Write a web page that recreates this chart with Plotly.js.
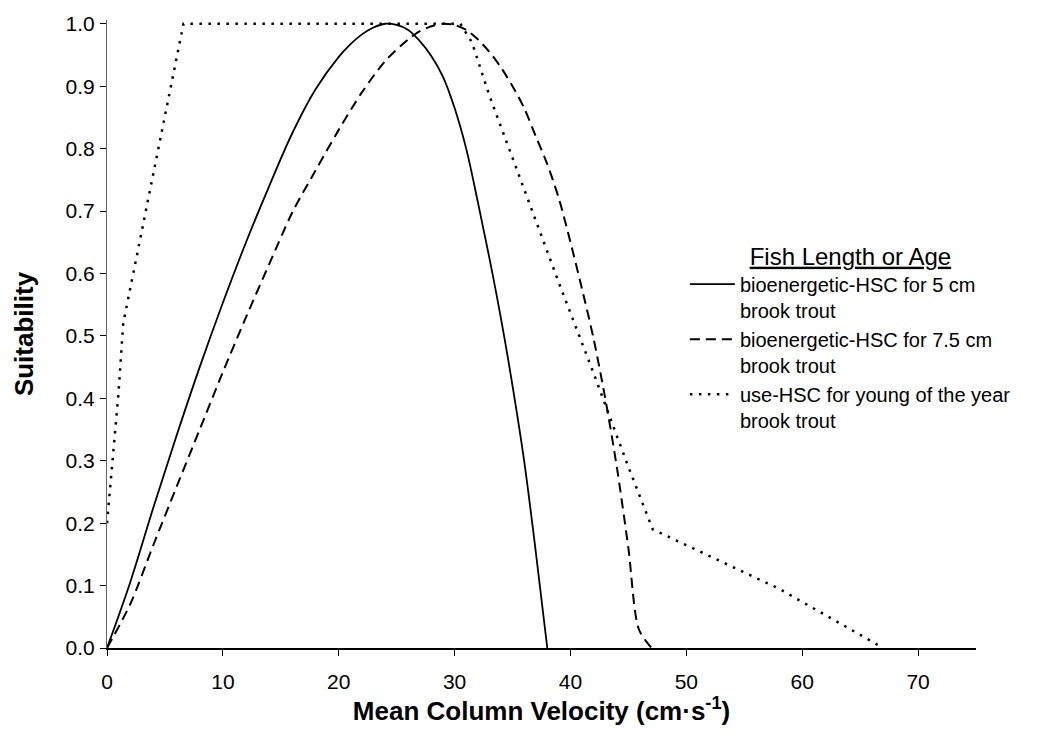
<!DOCTYPE html>
<html>
<head>
<meta charset="utf-8">
<script src="https://cdn.plot.ly/plotly-3.0.1.min.js"></script>
<style>html,body{margin:0;padding:0;background:#fff;}#chart{width:1058px;height:751px;}</style>
</head>
<body>
<div id="chart"></div>
<script>
// Bioenergetic-HSC for 5 cm brook trout
const solidX = [0, 2, 4, 6, 8, 10, 12, 14, 16, 18, 20, 21, 22, 23, 24, 25, 26, 27, 28, 29, 30, 31, 32, 33, 34, 35, 36, 37, 38];
const solidY = [0, 0.105, 0.225, 0.34, 0.45, 0.553, 0.65, 0.74, 0.825, 0.895, 0.947, 0.967, 0.983, 0.994, 1.0, 0.998, 0.99, 0.972, 0.948, 0.915, 0.865, 0.80, 0.715, 0.625, 0.528, 0.42, 0.30, 0.155, 0];

// Bioenergetic-HSC for 7.5 cm brook trout
const dashX = [0, 2, 4, 6, 8, 10, 12, 14, 16, 18, 20, 22, 24, 26, 27, 28, 29, 30, 31, 32, 33, 34, 35, 36, 37, 38, 39, 40, 41, 42, 43, 44, 45, 45.9, 47];
const dashY = [0, 0.07, 0.165, 0.258, 0.35, 0.442, 0.53, 0.615, 0.698, 0.765, 0.83, 0.89, 0.94, 0.975, 0.988, 0.996, 1.0, 0.998, 0.99, 0.975, 0.955, 0.93, 0.90, 0.865, 0.82, 0.775, 0.72, 0.65, 0.575, 0.495, 0.40, 0.29, 0.16, 0.03, 0];

// Use-HSC for young of the year brook trout
const dotX = [0, 1.0, 1.4, 6.6, 30.5, 31.5, 33, 36, 39, 42, 45, 47.1, 58, 67];
const dotY = [0.2, 0.41, 0.52, 1.0, 1.0, 0.97, 0.885, 0.735, 0.585, 0.44, 0.29, 0.19, 0.095, 0];

const seriesNames = [
  'bioenergetic-HSC for 5 cm<br>brook trout',
  'bioenergetic-HSC for 7.5 cm<br>brook trout',
  'use-HSC for young of the year<br>brook trout'
];
const legendTitle = 'Fish Length or Age';
const xTitle = 'Mean Column Velocity (cm·s<sup>-1</sup>)';
const yTitle = 'Suitability';

const FONT = 'Liberation Sans, Arial, Helvetica, sans-serif';

const traces = [
  {x: solidX, y: solidY, name: seriesNames[0], mode: 'lines', type: 'scatter',
   line: {color: '#000', width: 1.8, shape: 'spline', smoothing: 1}},
  {x: dashX, y: dashY, name: seriesNames[1], mode: 'lines', type: 'scatter',
   line: {color: '#000', width: 2, dash: '10px,6px', shape: 'spline', smoothing: 0.8}},
  {x: dotX, y: dotY, name: seriesNames[2], mode: 'lines', type: 'scatter',
   line: {color: '#000', width: 2.5, dash: '2.5px,6.5px'}}
];

const tickFont = {family: FONT, size: 21, color: '#000'};

const layout = {
  width: 1058, height: 751,
  margin: {l: 107, r: 82, t: 20, b: 103, pad: 0},
  paper_bgcolor: '#fff', plot_bgcolor: '#fff',
  font: {family: FONT, color: '#000'},
  showlegend: true,
  legend: {
    x: 0.665, xanchor: 'left', y: 0.66, yanchor: 'top',
    bgcolor: 'rgba(0,0,0,0)', borderwidth: 0,
    font: {family: FONT, size: 20, color: '#000'},
    valign: 'top', tracegroupgap: 0, itemwidth: 45,
    title: {text: '<u>' + legendTitle + '</u>', side: 'top center', font: {family: FONT, size: 24, color: '#000'}}
  },
  xaxis: {
    range: [0, 75], tick0: 0, dtick: 10, tickformat: 'd',
    showgrid: false, zeroline: false,
    showline: true, linecolor: '#000', linewidth: 1.5,
    ticks: 'outside', ticklen: 6, tickwidth: 1, tickcolor: '#000',
    tickfont: tickFont, ticklabelstandoff: 8,
    title: {text: xTitle, font: {family: FONT, size: 26, color: '#000', weight: 'bold'}, standoff: 0}
  },
  xaxis2: {
    overlaying: 'x', anchor: 'y', side: 'bottom',
    range: [0, 75], tick0: 0, dtick: 10,
    showgrid: false, zeroline: false, showline: false,
    ticks: 'inside', ticklen: 6, tickwidth: 1, tickcolor: '#000',
    showticklabels: false
  },
  yaxis: {
    range: [0, 1.006], tick0: 0, dtick: 0.1, tickformat: '.1f',
    showgrid: false, zeroline: false,
    showline: true, linecolor: '#666', linewidth: 1,
    ticks: 'outside', ticklen: 6, tickwidth: 1, tickcolor: '#000',
    tickfont: tickFont, ticklabelstandoff: 1,
    title: {text: yTitle, font: {family: FONT, size: 26, color: '#000', weight: 'bold'}, standoff: 24}
  },
  yaxis2: {
    overlaying: 'y', anchor: 'x', side: 'left',
    range: [0, 1.006], tick0: 0, dtick: 0.1,
    showgrid: false, zeroline: false, showline: false,
    ticks: 'inside', ticklen: 6, tickwidth: 1, tickcolor: '#000',
    showticklabels: false
  }
};

Plotly.newPlot('chart', traces, layout, {displayModeBar: false, staticPlot: true});
</script>
</body>
</html>
